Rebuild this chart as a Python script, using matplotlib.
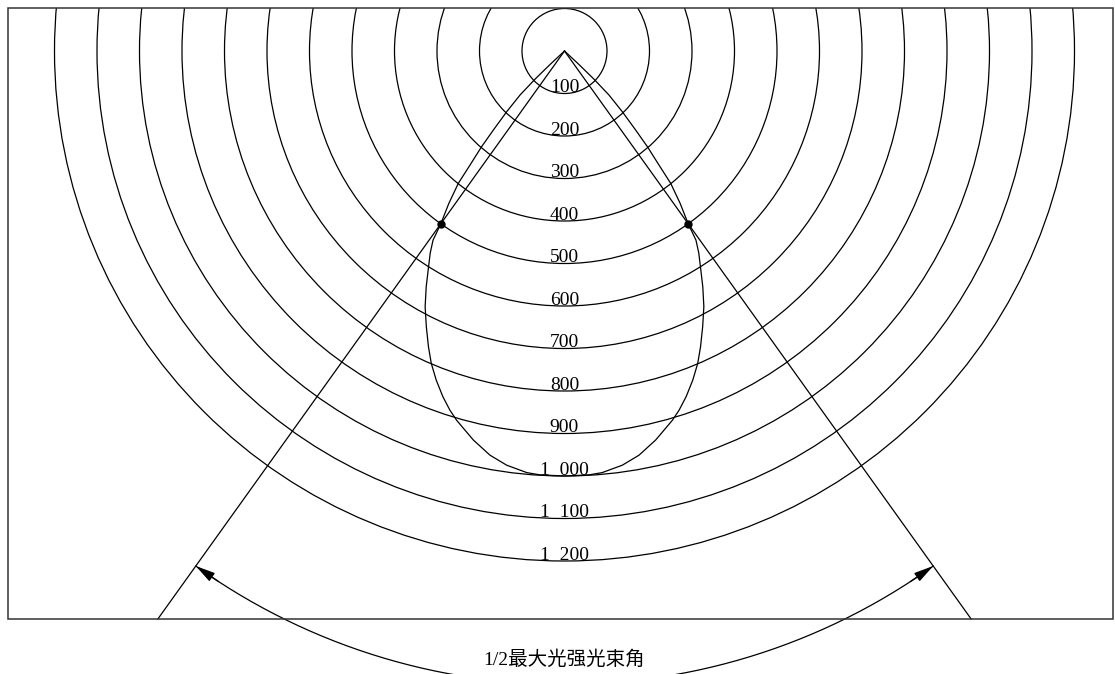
import numpy as np
import matplotlib
matplotlib.use("Agg")
import matplotlib.pyplot as plt
from matplotlib.patches import Rectangle, Circle

# light intensity rings (cd) and their labels
ring_values = [100, 200, 300, 400, 500, 600, 700, 800, 900, 1000, 1100, 1200]
ring_labels = ['100', '200', '300', '400', '500', '600', '700', '800', '900',
               '1  000', '1  100', '1  200']

# distribution curve, one half (angle from axis in deg, intensity in cd)
curve_angle = [0, 3.3, 5.1, 7.95, 10.45, 13.2, 16.3, 17.7, 19.4, 21.3, 23.1,
               24.7, 26.6, 28.6, 30.4, 31.9, 33.6, 34.8, 35.6, 37.2, 38.75,
               39.65, 40.9, 42.0, 43.6, 45.3, 46.3, 47.0, 47.5]
curve_value = [1000, 999, 996, 984, 967, 940, 905, 887, 862, 831, 799,
               766, 726, 685, 643, 607, 571, 542, 500, 450, 399,
               348, 298, 250, 197, 147, 95, 45, 0]

title_text = '1/2最大光强光束角'

# layout (pixels of the 1115x674 picture)
W, H = 1115, 674
PX = 0.425            # pixels per cd
CX, CY = 564.5, 51    # centre of the rings
frame_px = (8, 8, 1113, 619)
arc_px = 633.4        # radius of the beam angle arrow

def to_x(px):
    return (px - CX) / PX

def to_y(py):
    return (CY - py) / PX

fig = plt.figure(figsize=(W / 100, H / 100), dpi=100)
ax = fig.add_axes([0, 0, 1, 1])
ax.set_xlim(to_x(0), to_x(W))
ax.set_ylim(to_y(H), to_y(0))
ax.axis('off')

x0, y0, x1, y1 = frame_px
frame = Rectangle((to_x(x0), to_y(y1)), to_x(x1) - to_x(x0), to_y(y0) - to_y(y1),
                  fill=False, ec='#333333', lw=1.1, zorder=3)
ax.add_patch(frame)

lw = 0.9
for v, lab in zip(ring_values, ring_labels):
    c = Circle((0, 0), v, fill=False, ec='black', lw=lw)
    ax.add_patch(c)
    c.set_clip_path(frame)
    ax.text(0, -v + 2.5, lab, ha='center', va='baseline', fontsize=14,
            family=['Liberation Serif', 'Noto Sans CJK SC'], zorder=4)

# curve, mirrored
ang = np.radians(curve_angle)
val = np.array(curve_value, dtype=float)
xs = np.concatenate([-(val * np.sin(ang))[::-1], (val * np.sin(ang))[1:]])
ys = np.concatenate([-(val * np.cos(ang))[::-1], -(val * np.cos(ang))[1:]])
ax.plot(xs, ys, color='black', lw=lw, solid_joinstyle='round')

# half-max beam angle
half = np.interp(500, curve_value[::-1], curve_angle[::-1])
h = np.radians(half)
y_bot = to_y(y1)
for s in (-1, 1):
    ax.plot([0, s * (-y_bot) * np.tan(h)], [0, y_bot], color='black', lw=lw)
    ax.plot(s * 500 * np.sin(h), -500 * np.cos(h), 'o', color='black', ms=5)

# arc with arrows
R = arc_px / PX
t = np.linspace(-np.pi / 2 - h, -np.pi / 2 + h, 300)
ax.plot(R * np.cos(t), R * np.sin(t), color='black', lw=lw)
for s in (-1, 1):
    a_tip = -np.pi / 2 + s * h
    a_back = -np.pi / 2 + s * (h - np.radians(2.5))
    ax.annotate('', xy=(R * np.cos(a_tip), R * np.sin(a_tip)),
                xytext=(R * np.cos(a_back), R * np.sin(a_back)),
                arrowprops=dict(arrowstyle='-|>,head_length=1.2,head_width=0.3',
                                color='black', lw=lw, shrinkA=0, shrinkB=0))

ax.text(0, to_y(659), title_text, ha='center', va='center', fontsize=14,
        family=['Liberation Serif', 'Noto Sans CJK SC'])

fig.savefig('out.png', dpi=100, facecolor='white')
